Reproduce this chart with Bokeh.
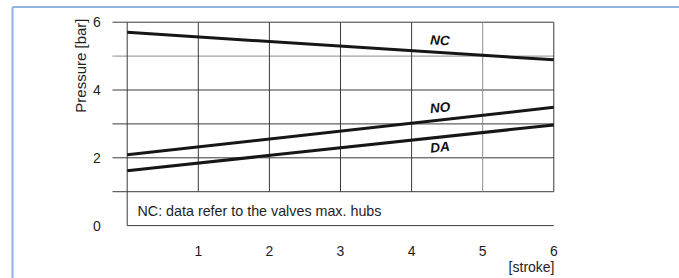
import math
from bokeh.plotting import figure
from bokeh.models import Range1d
from bokeh.core.properties import value
from bokeh.embed import file_html
from bokeh.resources import INLINE

# ---- data ----
stroke = [0, 6]
nc_pressure = [5.70, 4.89]
no_pressure = [2.09, 3.49]
da_pressure = [1.62, 2.97]

x_ticks = [1, 2, 3, 4, 5, 6]
x_tick_labels = ["1", "2", "3", "4", "5", "6"]
y_ticks = [0, 2, 4, 6]
y_tick_labels = ["0", "2", "4", "6"]
y_grid = [1, 2, 3, 4, 5, 6]

curve_names = ["NC", "NO", "DA"]
x_title = "[stroke]"
y_title = "Pressure [bar]"
note = "NC: data refer to the valves max. hubs"

FONT = value("Liberation Sans")
TXT = "#1e1e1e"
GRID = "#3a3a3a"
GRID_LIGHT = "#8c8c8c"
BLUE = "#92b4de"

p = figure(width=679, height=278,
           x_range=Range1d(-1.782, 7.768), y_range=Range1d(-1.560, 6.640),
           x_axis_location=None, y_axis_location=None,
           toolbar_location=None, output_backend="svg", min_border=0,
           outline_line_color=None, background_fill_color="white")
p.grid.visible = False

# light blue frame
p.segment(x0=[-1.613], y0=[6.448], x1=[7.768], y1=[6.448], line_color=BLUE, line_width=2)
p.segment(x0=[-1.613], y0=[6.448], x1=[-1.613], y1=[-1.560], line_color=BLUE, line_width=2)

# horizontal grid lines (extend left of the chart as tick marks)
hx0 = [-0.207 for _ in y_grid]
hx1 = [stroke[-1] for _ in y_grid]
hcol = [GRID_LIGHT if y == 5 else GRID for y in y_grid]
p.segment(x0=hx0, y0=y_grid, x1=hx1, y1=y_grid, line_color=hcol, line_width=1)
# bottom line of the note box
p.segment(x0=[stroke[0]], y0=[0], x1=[stroke[-1]], y1=[0], line_color=GRID, line_width=1)
# vertical lines
p.segment(x0=[0], y0=[0], x1=[0], y1=[6], line_color=GRID, line_width=1)
vcol = [GRID_LIGHT if x == 5 else GRID for x in x_ticks]
p.segment(x0=x_ticks, y0=[1] * len(x_ticks), x1=x_ticks, y1=[6] * len(x_ticks),
          line_color=vcol, line_width=1)

# curves
for ys in (nc_pressure, no_pressure, da_pressure):
    p.line(stroke, ys, line_color="#161616", line_width=3)

# curve labels
p.text(x=[4.40, 4.40, 4.40], y=[5.46, 3.48, 2.31], text=curve_names,
       angle=[-0.04, 0.11, 0.11], text_font=FONT, text_font_size="13.5px",
       text_font_style="bold italic", text_color="#111111",
       text_align="center", text_baseline="middle")

# tick labels
p.text(x=[-0.37] * len(y_ticks), y=y_ticks, text=y_tick_labels, text_font=FONT,
       text_font_size="14px", text_color=TXT, text_align="right", text_baseline="middle")
p.text(x=x_ticks, y=[-0.76] * len(x_ticks), text=x_tick_labels, text_font=FONT,
       text_font_size="14px", text_color=TXT, text_align="center", text_baseline="middle")

# axis titles
p.text(x=[6.01], y=[-1.21], text=[x_title], text_font=FONT, text_font_size="14px",
       text_color=TXT, text_align="right", text_baseline="middle")
p.text(x=[-0.66], y=[6.11], text=[y_title], angle=[math.pi / 2], text_font=FONT,
       text_font_size="15px", text_color=TXT, text_align="right", text_baseline="middle")

# note
p.text(x=[0.145], y=[0.42], text=[note], text_font=FONT, text_font_size="14.3px",
       text_color=TXT, text_align="left", text_baseline="middle")

open("out.html", "w").write(file_html(p, INLINE))
